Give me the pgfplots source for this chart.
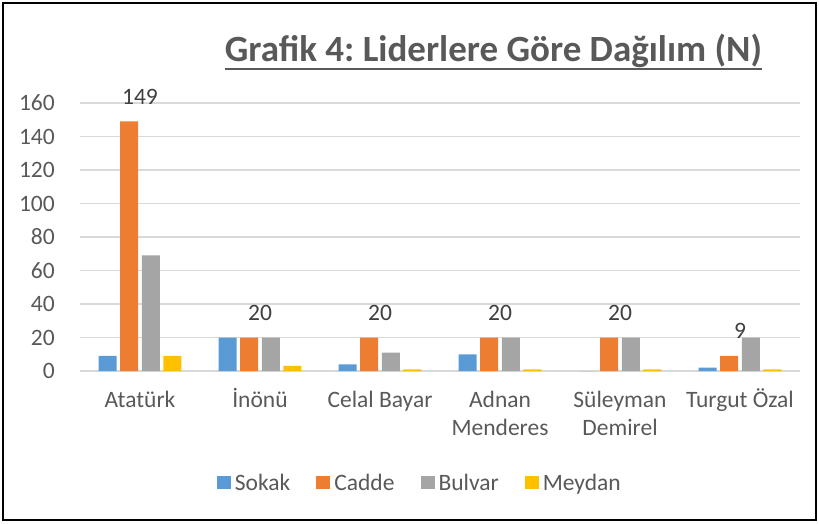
\documentclass[border=0pt]{standalone}
\usepackage{fontspec}
\setmainfont{Carlito}
\usepackage{pgfplots}
\pgfplotsset{compat=1.18}
\definecolor{cSokak}{HTML}{5B9BD5}
\definecolor{cCadde}{HTML}{ED7D31}
\definecolor{cBulvar}{HTML}{A5A5A5}
\definecolor{cMeydan}{HTML}{FFC000}
\definecolor{cText}{HTML}{595959}
\definecolor{cLab}{HTML}{404040}
\definecolor{cGrid}{HTML}{D9D9D9}
\newcommand{\lblfont}{\fontsize{23.5}{28.5}\selectfont}
\newcommand{\vp}{\vphantom{ÖİÜ}}
\frenchspacing
\begin{document}
\begin{tikzpicture}
\useasboundingbox (0pt,0pt) rectangle (819pt,523pt);
\draw[line width=2pt, color=black] (3pt,3pt) rectangle (816pt,520pt);
\node[font=\bfseries\fontsize{37}{44}\selectfont, text=cText, anchor=base, inner sep=0pt] (t) at (493.5pt,461pt) {Grafik 4: Liderlere Göre Dağılım (N)};
\draw[cText, line width=2pt] ([yshift=-7pt]t.base west) -- ([yshift=-7pt]t.base east);
\begin{axis}[
  at={(80pt,152pt)}, anchor=south west,
  scale only axis, width=720pt, height=268pt,
  xmin=-0.5, xmax=5.5, ymin=0, ymax=160,
  ytick={0,20,...,160},
  xtick={0,...,5},
  xticklabels={\vp Atatürk, \vp İnönü, \vp Celal Bayar, {\vp Adnan\\Menderes}, {\vp Süleyman\\Demirel}, \vp Turgut Özal},
  xticklabel style={align=center, anchor=north, inner sep=0pt, yshift=-17pt, font=\lblfont, text=cText},
  yticklabel style={anchor=east, inner sep=0pt, xshift=-25pt, font=\lblfont, text=cText},
  /pgf/number format/assume math mode=true,
  major tick length=0pt,
  axis line style={draw=none},
  ymajorgrids, grid style={cGrid, line width=1.3pt},
  clip=false,
  legend style={at={(0.472,-0.418)}, anchor=center, draw=none, font=\lblfont, text=cText,
    legend columns=4,
    /tikz/every odd column/.append style={column sep=2pt},
    /tikz/every even column/.append style={column sep=24pt}},
  legend image code/.code={\fill[#1,draw=none] (0pt,-6pt) rectangle (14pt,7pt);},
]
\addplot[ybar, fill=cSokak, draw=none, bar width=0.15, bar shift=-0.27] coordinates {(0,9) (1,20) (2,4) (3,10) (4,0) (5,2)};
\addlegendentry{Sokak}
\addplot[ybar, fill=cCadde, draw=none, bar width=0.15, bar shift=-0.09,
  nodes near coords, nodes near coords style={font=\lblfont, text=cLab, anchor=base, inner sep=0pt, yshift=17pt}] coordinates {(0,149) (1,20) (2,20) (3,20) (4,20) (5,9)};
\addlegendentry{Cadde}
\addplot[ybar, fill=cBulvar, draw=none, bar width=0.15, bar shift=0.09] coordinates {(0,69) (1,20) (2,11) (3,20) (4,20) (5,20)};
\addlegendentry{Bulvar}
\addplot[ybar, fill=cMeydan, draw=none, bar width=0.15, bar shift=0.27] coordinates {(0,9) (1,3) (2,1) (3,1) (4,1) (5,1)};
\addlegendentry{Meydan}
\end{axis}
\end{tikzpicture}
\end{document}
